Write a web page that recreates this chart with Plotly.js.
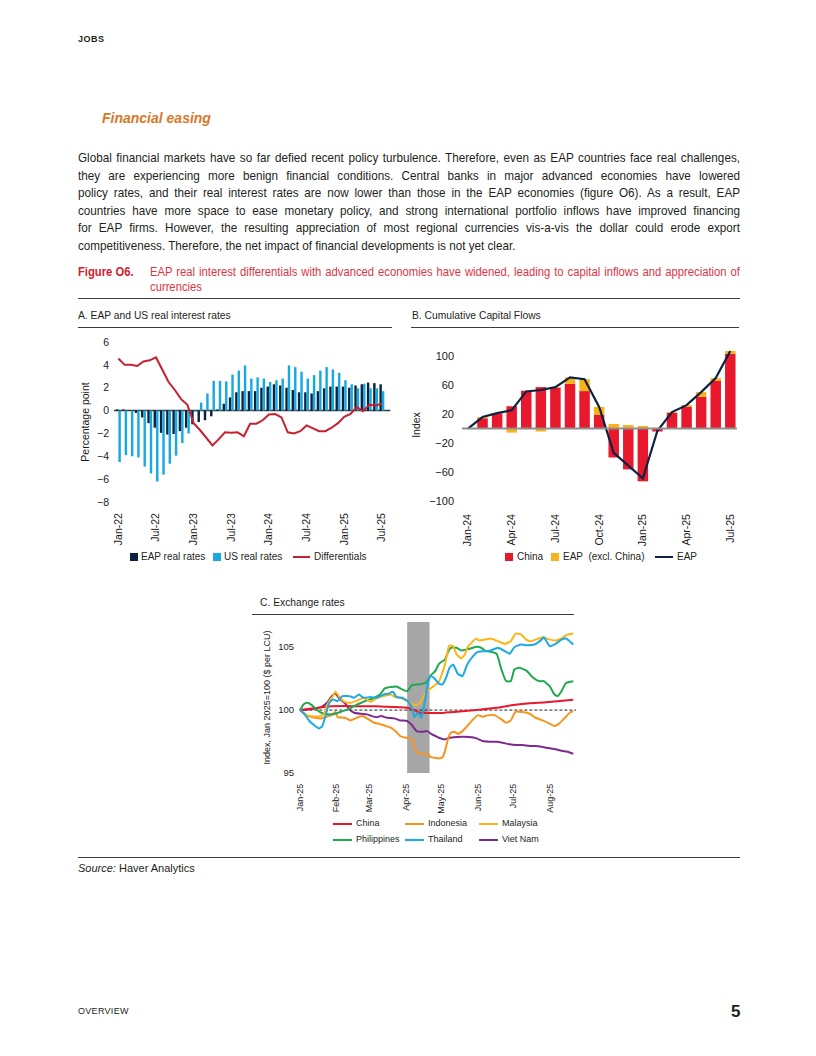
<!DOCTYPE html>
<html>
<head>
<meta charset="utf-8">
<script src="https://cdn.plot.ly/plotly-3.0.1.min.js"></script>
<style>
  html,body{margin:0;padding:0;background:#fff;}
  #page{position:relative;width:816px;height:1056px;overflow:hidden;color:#231f20;
        font-family:"Liberation Sans",Arial,sans-serif;}
  .abs{position:absolute;}
  .rule{position:absolute;height:0;border-top:1px solid #3c3c3c;}
  .fit .ln{white-space:nowrap;text-align:justify;text-align-last:justify;transform-origin:0 0;}
  .fit .ln.last{text-align-last:left;}
  .fit .ln span{display:inline;}
  .para .ln{height:17.5px;line-height:17.5px;font-size:13px;}
  .cap .ln{height:15px;line-height:15px;font-size:12.5px;color:#dc3545;}
  .ptitle{position:absolute;font-size:10.3px;line-height:12px;color:#231f20;white-space:nowrap;}
  .leg{position:absolute;color:#231f20;white-space:pre;}
  .leg .box{position:absolute;}
  .leg .txt{position:absolute;}
  .chart{position:absolute;}
</style>
</head>
<body>
<div id="page">
  <div class="abs" style="left:78px;top:34px;font-size:9px;font-weight:bold;letter-spacing:0.5px;">JOBS</div>
  <div class="abs" style="left:102px;top:110px;font-size:14px;font-weight:bold;font-style:italic;color:#d9782a;">Financial easing</div>

  <div class="abs fit para" data-w="662" style="left:78px;top:149px;">
    <div class="ln">Global financial markets have so far defied recent policy turbulence. Therefore, even as EAP countries face real challenges,</div>
    <div class="ln">they are experiencing more benign financial conditions. Central banks in major advanced economies have lowered</div>
    <div class="ln">policy rates, and their real interest rates are now lower than those in the EAP economies (figure O6). As a result, EAP</div>
    <div class="ln">countries have more space to ease monetary policy, and strong international portfolio inflows have improved financing</div>
    <div class="ln">for EAP firms. However, the resulting appreciation of most regional currencies vis-a-vis the dollar could erode export</div>
    <div class="ln last">competitiveness. Therefore, the net impact of financial developments is not yet clear.</div>
  </div>

  <div class="abs fit cap" data-w="60" style="left:78px;top:265px;">
    <div class="ln last" style="font-weight:bold;color:#d0202f;">Figure O6.</div>
  </div>
  <div class="abs fit cap" data-w="590" style="left:150px;top:265px;">
    <div class="ln">EAP real interest differentials with advanced economies have widened, leading to capital inflows and appreciation of</div>
    <div class="ln last">currencies</div>
  </div>
  <div class="rule" style="left:78px;width:662px;top:298px;"></div>

  <div class="ptitle" style="left:78px;top:310px;">A. EAP and US real interest rates</div>
  <div class="rule" style="left:78px;width:314px;top:327px;"></div>
  <div class="ptitle" style="left:412px;top:310px;">B. Cumulative Capital Flows</div>
  <div class="rule" style="left:411px;width:328px;top:327px;"></div>
  <div class="ptitle" style="left:260px;top:597px;">C. Exchange rates</div>
  <div class="rule" style="left:252px;width:322px;top:614px;"></div>

  <div id="chartA" class="chart" style="left:60px;top:330px;width:340px;height:230px;"></div>
  <div id="chartB" class="chart" style="left:405px;top:330px;width:340px;height:230px;"></div>
  <div id="chartC" class="chart" style="left:250px;top:612px;width:330px;height:215px;"></div>

  <div id="legA" class="leg" style="left:0;top:0;"></div>
  <div id="legB" class="leg" style="left:0;top:0;"></div>
  <div id="legC" class="leg" style="left:0;top:0;"></div>

  <div class="rule" style="left:78px;width:662px;top:857px;"></div>
  <div class="abs" style="left:78px;top:862px;font-size:11px;"><i>Source:</i> Haver Analytics</div>

  <div class="abs" style="left:78px;top:1006px;font-size:9px;letter-spacing:0.3px;">OVERVIEW</div>
  <div class="abs" style="left:731px;top:1002px;font-size:17px;font-weight:bold;">5</div>
</div>

<script>
// ---------------- Panel A data ----------------
const monthsA = ['Jan-22','Feb-22','Mar-22','Apr-22','May-22','Jun-22','Jul-22','Aug-22','Sep-22','Oct-22','Nov-22','Dec-22',
  'Jan-23','Feb-23','Mar-23','Apr-23','May-23','Jun-23','Jul-23','Aug-23','Sep-23','Oct-23','Nov-23','Dec-23',
  'Jan-24','Feb-24','Mar-24','Apr-24','May-24','Jun-24','Jul-24','Aug-24','Sep-24','Oct-24','Nov-24','Dec-24',
  'Jan-25','Feb-25','Mar-25','Apr-25','May-25','Jun-25','Jul-25'];
const ticksA = ['Jan-22','Jul-22','Jan-23','Jul-23','Jan-24','Jul-24','Jan-25','Jul-25'];
const eapReal = [0.1,0.1,0,-0.2,-0.6,-1.1,-1.5,-1.95,-2.1,-2.05,-1.8,-1.5,
  -1.2,-1.0,-0.85,-0.5,0.1,0.6,1.15,1.6,1.7,1.7,1.7,2.0,
  2.1,2.3,2.2,2.0,1.8,1.6,1.6,1.5,1.7,1.95,2.1,2.1,
  2.1,2.0,2.2,2.3,2.45,2.4,2.3];
const usReal = [-4.5,-3.9,-4.0,-4.1,-4.9,-5.5,-6.2,-5.6,-4.65,-3.95,-2.85,-2.0,
  -0.1,0.7,1.5,2.6,2.6,2.55,3.15,3.5,3.95,2.8,2.9,2.8,
  2.5,2.65,2.8,3.95,3.8,3.4,2.8,3.1,3.5,3.8,3.6,3.3,
  2.65,2.3,1.95,2.35,1.95,1.95,1.7];
const diffs = [4.55,4.0,4.0,3.9,4.3,4.4,4.65,3.6,2.5,1.8,1.0,0.5,
  -1.1,-1.7,-2.4,-3.05,-2.5,-1.9,-1.95,-1.9,-2.25,-1.15,-1.15,-0.85,
  -0.35,-0.3,-0.6,-1.9,-2.0,-1.8,-1.3,-1.55,-1.8,-1.8,-1.5,-1.1,
  -0.55,-0.3,0.3,-0.05,0.5,0.45,0.6];
const yTicksA = [-8,-6,-4,-2,0,2,4,6];

// ---------------- Panel B data ----------------
const monthsB = ['Jan-24','Feb-24','Mar-24','Apr-24','May-24','Jun-24','Jul-24','Aug-24','Sep-24','Oct-24','Nov-24','Dec-24',
  'Jan-25','Feb-25','Mar-25','Apr-25','May-25','Jun-25','Jul-25'];
const ticksB = ['Jan-24','Apr-24','Jul-24','Oct-24','Jan-25','Apr-25','Jul-25'];
const chinaFlows = [0,14.3,21,31,52.5,57.5,56.5,62,52,19,-40,-56.5,-73,-4,22,30,44,66,103.5];
const eapExChina = [0,1.7,0.5,-5.5,-1,-4,1,9,16.5,11,6.5,5,3.7,1,1,2.6,6.6,4,4.1];
const eapFlows = [0,16,21.5,25.5,51.5,53.5,57.5,71,68.5,30,-33.5,-51.5,-69,-3,23,32.5,50.5,70,107.6];
const yTicksB = [-100,-60,-20,20,60,100];

// ---------------- Panel C data ----------------
const ticksC = ['2025-01-01','2025-02-01','2025-03-01','2025-04-01','2025-05-01','2025-06-01','2025-07-01','2025-08-01'];
const yTicksC = [95,100,105];
const shadeC = ['2025-04-02','2025-04-21'];

const cnDates = ['2025-01-01','2025-01-11','2025-01-25','2025-02-08','2025-02-22','2025-03-07','2025-03-22','2025-04-02','2025-04-08','2025-04-12','2025-04-29','2025-05-05','2025-05-19','2025-06-02','2025-06-17','2025-07-01','2025-07-15','2025-07-29','2025-08-12','2025-08-21'];
const cnVals  = [100,100.13,100.29,100.32,100.3,100.3,100.24,100.18,100.0,99.81,99.76,99.8,99.9,100.02,100.18,100.4,100.55,100.62,100.75,100.82];

const idDates = ['2025-01-01','2025-01-08','2025-01-14','2025-01-19','2025-01-25','2025-01-29','2025-01-31','2025-02-02','2025-02-08','2025-02-13','2025-02-17','2025-02-23','2025-02-27','2025-03-05','2025-03-11','2025-03-19','2025-03-23','2025-03-27','2025-04-01','2025-04-05','2025-04-07','2025-04-09','2025-04-11','2025-04-16','2025-04-19','2025-04-22','2025-04-26','2025-04-29','2025-05-02','2025-05-04','2025-05-07','2025-05-09','2025-05-12','2025-05-15','2025-05-19','2025-05-23','2025-05-28','2025-06-01','2025-06-05','2025-06-09','2025-06-15','2025-06-21','2025-06-25','2025-06-29','2025-07-03','2025-07-09','2025-07-15','2025-07-20','2025-07-26','2025-08-01','2025-08-05','2025-08-09','2025-08-14','2025-08-18','2025-08-21'];
const idVals  = [100,99.52,99.39,99.34,99.52,99.66,99.87,99.44,99.39,99.18,99.34,99.52,99.34,98.99,98.86,98.6,98.33,97.94,97.8,97.75,97.5,96.88,96.6,96.48,96.53,96.27,96.2,96.16,96.25,96.7,97.8,98.2,98.28,98.12,98.33,98.73,99.26,99.6,99.47,99.58,99.6,99.26,98.99,99.18,99.87,99.84,99.71,99.39,99.18,98.92,98.73,98.92,99.39,99.79,99.92];

const myDates = ['2025-01-01','2025-01-05','2025-01-11','2025-01-17','2025-01-21','2025-01-25','2025-01-29','2025-01-31','2025-02-04','2025-02-08','2025-02-13','2025-02-19','2025-02-24','2025-03-02','2025-03-07','2025-03-13','2025-03-19','2025-03-23','2025-03-27','2025-04-01','2025-04-05','2025-04-08','2025-04-11','2025-04-14','2025-04-16','2025-04-19','2025-04-23','2025-04-29','2025-05-04','2025-05-07','2025-05-08','2025-05-11','2025-05-14','2025-05-18','2025-05-21','2025-05-23','2025-05-28','2025-05-31','2025-06-02','2025-06-07','2025-06-12','2025-06-18','2025-06-24','2025-06-29','2025-07-03','2025-07-08','2025-07-12','2025-07-16','2025-07-20','2025-07-26','2025-07-30','2025-08-06','2025-08-11','2025-08-15','2025-08-21'];
const myVals  = [100,99.66,99.52,99.5,99.66,100.58,101.11,101.46,100.98,100.66,100.58,100.77,100.98,100.66,100.93,101.11,101.24,101.03,100.98,100.77,100.58,100.4,100.45,100.71,101.11,101.51,101.8,102.25,103.6,104.95,105.13,105.08,104.42,104.1,104.42,104.95,105.48,105.69,105.53,105.6,105.69,105.48,105.26,105.48,106.08,106.0,105.6,105.48,105.6,105.79,105.66,105.53,105.69,105.95,106.08];

const phDates = ['2025-01-01','2025-01-04','2025-01-07','2025-01-11','2025-01-15','2025-01-19','2025-01-25','2025-01-31','2025-02-05','2025-02-11','2025-02-16','2025-02-22','2025-02-27','2025-03-05','2025-03-10','2025-03-14','2025-03-19','2025-03-24','2025-03-29','2025-04-02','2025-04-06','2025-04-12','2025-04-18','2025-04-22','2025-04-26','2025-04-29','2025-05-04','2025-05-07','2025-05-09','2025-05-14','2025-05-18','2025-05-22','2025-05-26','2025-05-31','2025-06-04','2025-06-08','2025-06-12','2025-06-17','2025-06-21','2025-06-25','2025-06-29','2025-07-02','2025-07-06','2025-07-12','2025-07-18','2025-07-23','2025-07-27','2025-08-01','2025-08-05','2025-08-08','2025-08-11','2025-08-15','2025-08-21'];
const phVals  = [100,100.45,100.58,100.4,100.05,99.79,99.66,99.71,99.87,100.05,100.32,100.58,100.77,100.98,101.24,101.72,101.83,101.88,101.64,101.5,101.98,102.04,102.17,102.75,103.12,103.68,104.02,104.68,104.95,104.95,104.74,104.8,104.9,105.03,104.95,104.68,104.63,104.47,103.23,102.3,102.3,103.23,103.36,103.15,102.57,102.3,102.3,101.9,101.24,101.11,101.5,102.17,102.3];

const thDates = ['2025-01-01','2025-01-05','2025-01-09','2025-01-14','2025-01-17','2025-01-20','2025-01-23','2025-01-26','2025-01-29','2025-02-02','2025-02-06','2025-02-12','2025-02-16','2025-02-20','2025-02-24','2025-03-02','2025-03-07','2025-03-13','2025-03-17','2025-03-21','2025-03-24','2025-03-29','2025-04-03','2025-04-06','2025-04-08','2025-04-11','2025-04-14','2025-04-16','2025-04-18','2025-04-20','2025-04-22','2025-04-26','2025-04-29','2025-05-02','2025-05-05','2025-05-08','2025-05-11','2025-05-15','2025-05-19','2025-05-23','2025-05-28','2025-06-01','2025-06-07','2025-06-12','2025-06-18','2025-06-24','2025-06-28','2025-07-02','2025-07-08','2025-07-13','2025-07-19','2025-07-25','2025-07-27','2025-08-01','2025-08-06','2025-08-11','2025-08-15','2025-08-21'];
const thVals  = [100,99.66,99.13,98.73,98.54,98.73,99.66,100.58,100.85,100.71,101.11,101.11,100.98,101.24,100.98,101.03,100.98,101.24,101.3,101.46,101.03,100.98,100.66,100.19,99.44,99.79,99.39,100.19,101.24,102.3,102.7,102.43,102.09,102.04,102.57,103.36,103.62,102.88,102.7,103.62,104.29,104.63,104.68,104.74,104.95,104.68,104.47,105.0,105.21,105.16,105.21,105.6,105.79,105.08,105.26,105.6,105.69,105.21];

const vnDates = ['2025-01-01','2025-01-08','2025-01-14','2025-01-19','2025-01-24','2025-01-28','2025-01-31','2025-02-04','2025-02-08','2025-02-12','2025-02-16','2025-02-22','2025-02-27','2025-03-03','2025-03-07','2025-03-11','2025-03-16','2025-03-22','2025-03-27','2025-04-02','2025-04-06','2025-04-10','2025-04-15','2025-04-19','2025-04-23','2025-04-26','2025-04-29','2025-05-04','2025-05-08','2025-05-14','2025-05-19','2025-05-25','2025-05-31','2025-06-05','2025-06-11','2025-06-17','2025-06-22','2025-06-28','2025-07-03','2025-07-09','2025-07-15','2025-07-20','2025-07-26','2025-08-01','2025-08-06','2025-08-12','2025-08-16','2025-08-21'];
const vnVals  = [100,100.05,100.13,100.24,100.58,101.11,101.32,100.85,100.58,100.05,99.79,99.71,99.66,99.52,99.44,99.52,99.39,99.34,99.18,99.13,98.81,98.33,98.28,98.33,98.07,97.94,97.8,97.67,97.8,97.86,97.88,97.86,97.75,97.54,97.49,97.49,97.41,97.28,97.22,97.22,97.14,97.14,97.06,96.96,96.88,96.75,96.69,96.53];

// ---------------- fit condensed text blocks ----------------
document.querySelectorAll('.fit').forEach(block => {
  const target = parseFloat(block.dataset.w);
  const lines = Array.from(block.querySelectorAll('.ln'));
  let maxW = 0;
  lines.forEach(l => {
    const s = document.createElement('span');
    s.textContent = l.textContent;
    s.style.cssText = 'white-space:nowrap;visibility:hidden;position:absolute;font:inherit;';
    l.appendChild(s);
    maxW = Math.max(maxW, s.getBoundingClientRect().width);
    l.removeChild(s);
  });
  const sc = Math.min(0.9, target / (maxW + 1));
  lines.forEach(l => {
    l.style.width = (target / sc) + 'px';
    l.style.transform = 'scaleX(' + sc + ')';
  });
});

// ---------------- styles ----------------
const chartFont = '"Liberation Sans", Arial, sans-serif';
const ink = '#1a1a1a';
const cfg = {staticPlot:true, displayModeBar:false};
const minus = v => (v < 0 ? '\u2212' + Math.abs(v) : String(v));

// ---------------- Panel A ----------------
const tracesA = [
  {type:'bar', name:'EAP real rates', x:monthsA, y:eapReal, marker:{color:'#0c2340', line:{width:0}}},
  {type:'bar', name:'US real rates', x:monthsA, y:usReal, marker:{color:'#19a9e1', line:{width:0}}},
  {type:'scatter', mode:'lines', name:'Differentials', x:monthsA, y:diffs, line:{color:'#c8202f', width:2}}
];
Plotly.newPlot('chartA', tracesA, {
  width:340, height:230, margin:{l:54, r:15, t:12, b:58},
  paper_bgcolor:'rgba(0,0,0,0)', plot_bgcolor:'rgba(0,0,0,0)',
  showlegend:false, barmode:'group', bargap:0.22, bargroupgap:0,
  font:{family:chartFont, size:10, color:ink},
  xaxis:{type:'category', range:[-0.7,42.5], tickmode:'array', tickvals:ticksA, ticktext:ticksA,
         tickangle:-90, tickfont:{size:10.5, color:ink}, showgrid:false, zeroline:false, showline:false,
         ticks:'', ticklabelstandoff:8},
  yaxis:{range:[-8,6], tickmode:'array', tickvals:yTicksA, ticktext:yTicksA.map(minus),
         tickfont:{size:10.5, color:ink}, showgrid:false, zeroline:false, showline:false, ticks:'',
         ticklabelstandoff:4, title:{text:'Percentage point', font:{size:10.5, color:ink}, standoff:5}},
  shapes:[{type:'line', xref:'paper', x0:0, x1:1.02, yref:'y', y0:0, y1:0, line:{color:'#3a3a3a', width:1.6}, layer:'below'}]
}, cfg);

// ---------------- Panel B ----------------
const tracesB = [
  {type:'bar', name:'China', x:monthsB, y:chinaFlows, marker:{color:'#e8192c', line:{width:0}}},
  {type:'bar', name:'EAP  (excl. China)', x:monthsB, y:eapExChina, marker:{color:'#f7b21c', line:{width:0}}},
  {type:'scatter', mode:'lines', name:'EAP', x:monthsB, y:eapFlows, line:{color:'#0c2340', width:2.2}}
];
Plotly.newPlot('chartB', tracesB, {
  width:340, height:230, margin:{l:57, r:8, t:12, b:52},
  paper_bgcolor:'rgba(0,0,0,0)', plot_bgcolor:'rgba(0,0,0,0)',
  showlegend:false, barmode:'relative', bargap:0.28,
  font:{family:chartFont, size:11, color:ink},
  xaxis:{type:'category', range:[-0.41,18.46], tickmode:'array', tickvals:ticksB, ticktext:ticksB,
         tickangle:-90, tickfont:{size:10.5, color:ink}, showgrid:false, zeroline:false, showline:false,
         ticks:'', ticklabelstandoff:3},
  yaxis:{range:[-110,120], tickmode:'array', tickvals:yTicksB, ticktext:yTicksB.map(minus),
         tickfont:{size:11, color:ink}, showgrid:false, zeroline:false, showline:false, ticks:'',
         ticklabelstandoff:7, title:{text:'Index', font:{size:10.5, color:ink}, standoff:6}},
  shapes:[{type:'line', xref:'paper', x0:0, x1:1, yref:'y', y0:0, y1:0, line:{color:'#8f8f8f', width:2}, layer:'above'}]
}, cfg);

// ---------------- Panel C ----------------
const seriesC = [
  {name:'China', x:cnDates, y:cnVals, color:'#e8192c'},
  {name:'Indonesia', x:idDates, y:idVals, color:'#f7941d'},
  {name:'Malaysia', x:myDates, y:myVals, color:'#fdb515'},
  {name:'Philippines', x:phDates, y:phVals, color:'#1fa84f'},
  {name:'Thailand', x:thDates, y:thVals, color:'#1ca9e6'},
  {name:'Viet Nam', x:vnDates, y:vnVals, color:'#7d2a90'}
];
const orderC = [5,1,0,3,2,4];
const tracesC = orderC.map(i => ({type:'scatter', mode:'lines', name:seriesC[i].name, x:seriesC[i].x, y:seriesC[i].y,
  line:{color:seriesC[i].color, width:2, shape:'spline', smoothing:0.4}}));
Plotly.newPlot('chartC', tracesC, {
  width:330, height:215, margin:{l:48, r:4, t:10, b:54},
  paper_bgcolor:'rgba(0,0,0,0)', plot_bgcolor:'rgba(0,0,0,0)',
  showlegend:false, font:{family:chartFont, size:9, color:ink},
  xaxis:{type:'date', range:['2024-12-30 08:00','2025-08-23 08:00'], tickmode:'array', tickvals:ticksC,
         tickformat:'%b-%y', tickangle:-90, tickfont:{size:9, color:ink}, showgrid:false, zeroline:false,
         showline:false, ticks:'', ticklabelstandoff:8},
  yaxis:{range:[95,107], tickmode:'array', tickvals:yTicksC, ticktext:yTicksC.map(String),
         tickfont:{size:9.5, color:ink}, showgrid:false, zeroline:false, showline:false, ticks:'',
         ticklabelstandoff:3, title:{text:'Index, Jan 2025=100 ($ per LCU)', font:{size:9, color:ink}, standoff:5}},
  shapes:[
    {type:'rect', xref:'x', x0:shadeC[0], x1:shadeC[1], yref:'paper', y0:0, y1:1, fillcolor:'#a6a6a6', line:{width:0}, layer:'below'},
    {type:'line', xref:'paper', x0:0.005, x1:1, yref:'y', y0:100, y1:100, line:{color:'#222', width:1, dash:'3px,2px'}, layer:'below'}
  ]
}, cfg);

// ---------------- HTML legends built from the traces ----------------
function buildLegend(id, items, fontSize) {
  const el = document.getElementById(id);
  el.style.fontSize = fontSize + 'px';
  items.forEach(it => {
    const b = document.createElement('div');
    b.className = 'box';
    if (it.kind === 'box') {
      b.style.cssText = `left:${it.left}px;top:${it.top - 3.75}px;width:7.5px;height:7.5px;background:${it.color};`;
    } else {
      b.style.cssText = `left:${it.left}px;top:${it.top - 1.25}px;width:${it.len}px;height:2.5px;background:${it.color};`;
    }
    el.appendChild(b);
    const t = document.createElement('div');
    t.className = 'txt';
    t.textContent = it.name;
    t.style.cssText = `left:${it.textLeft}px;top:${it.top - fontSize*0.62}px;line-height:${fontSize*1.2}px;`;
    el.appendChild(t);
  });
}
buildLegend('legA', [
  {kind:'box', color:tracesA[0].marker.color, name:tracesA[0].name, left:130, textLeft:141, top:557},
  {kind:'box', color:tracesA[1].marker.color, name:tracesA[1].name, left:213, textLeft:224, top:557},
  {kind:'line', len:17, color:tracesA[2].line.color, name:tracesA[2].name, left:293, textLeft:314, top:557}
], 10);
buildLegend('legB', [
  {kind:'box', color:tracesB[0].marker.color, name:tracesB[0].name, left:505, textLeft:517, top:557},
  {kind:'box', color:tracesB[1].marker.color, name:tracesB[1].name, left:551, textLeft:563, top:557},
  {kind:'line', len:18, color:tracesB[2].line.color, name:tracesB[2].name, left:655, textLeft:677, top:557}
], 10);
const colLeft = [333, 405, 479], rowTop = [824, 840];
buildLegend('legC', seriesC.map((s, i) => ({kind:'line', len:19, color:s.color, name:s.name,
  left:colLeft[i % 3], textLeft:colLeft[i % 3] + 23, top:rowTop[Math.floor(i / 3)]})), 9);
</script>
</body>
</html>
